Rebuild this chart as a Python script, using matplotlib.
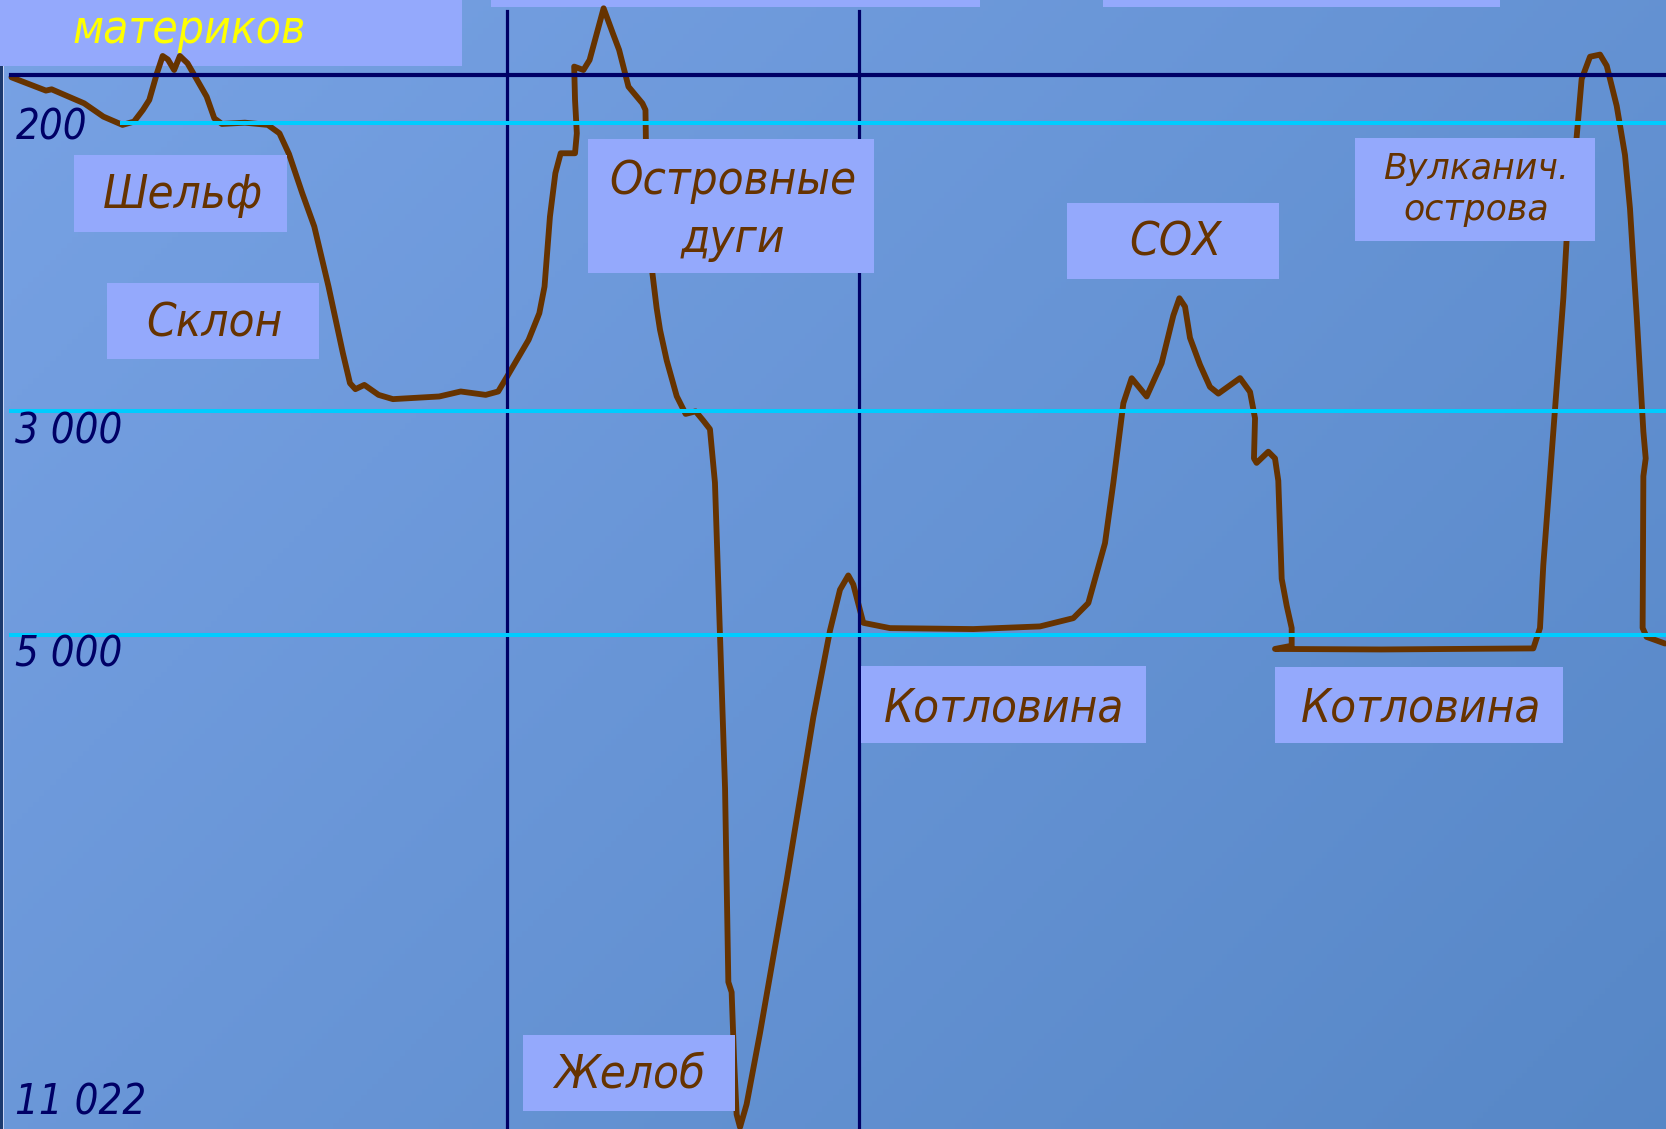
import matplotlib
matplotlib.use("Agg")
import matplotlib.pyplot as plt
import numpy as np
from matplotlib.patches import Rectangle

# picture units: 1568 x 1063 (figure is 1666 x 1129 px)
W, H = 1568, 1063

# ocean floor profile (distance, depth in picture units)
profile_x = [10.8, 43.2, 48.6, 79.2, 97.3, 115.3, 126.1, 134.5, 140.5, 147.7, 153.1, 158, 163.9, 169.3,
             176.5, 187.3, 194.5, 201.7, 208.9, 230.5, 252.1, 263, 272, 284.5, 295.8, 309.2, 322.7,
             329.4, 334.5, 342.9, 356.3, 369.8, 413.4, 433.6, 457.1, 468.9, 477.3, 497.5, 507.6,
             512.5, 517.6, 522.7, 527.7, 541.2, 542.9, 541.2, 540.4, 549.1, 554.9, 568.1, 576.8,
             582.7, 591.5, 604.6, 607.5, 608, 611, 614, 618, 621.2, 627.5, 636.9, 645.3, 654.7,
             661.9, 668.2, 672.9, 677.6, 682.4, 685.5, 688.6, 691, 693.3, 696.5, 702.7, 715.3,
             740.4, 765.5, 781.2, 790.6, 798.4, 803.1, 812.5, 837.6, 916, 978.8, 1010.2, 1024.3,
             1032.2, 1040, 1047.8, 1057.3, 1065.1, 1079.2, 1093.3, 1104.3, 1110, 1115.3, 1120,
             1129.4, 1138.8, 1146.7, 1167.1, 1176.5, 1181.2, 1180.2, 1182.7, 1193.7, 1200, 1203.1,
             1206.3, 1211, 1215.7, 1215.7, 1200, 1300, 1443.1, 1449.4, 1452.5, 1458.8, 1465.1,
             1471.4, 1476.1, 1483.9, 1488.6, 1496.5, 1505.9, 1512.2, 1521.6, 1529.4, 1534.1,
             1540.4, 1546.7, 1548.9, 1546.7, 1546, 1549.8, 1567]
profile_y = [72.8, 85.3, 84.1, 97.3, 109.8, 117.6, 114.5, 103.5, 94.1, 69, 52.7, 56, 65.9, 52.7,
             59.6, 78.4, 91, 111.4, 116.7, 115.5, 117.6, 125.5, 145, 182, 213.3, 269.8, 332.5,
             360.8, 366.4, 362.4, 371.8, 375.8, 373.3, 368.6, 371.8, 368.6, 354.5, 320, 294.9,
             269.8, 203.9, 163.1, 144.3, 144.3, 125.5, 94.1, 62.7, 65.9, 56.5, 7.8, 31.4,
             47, 81.6, 97.3, 103.5, 140, 200, 257, 290, 310.6, 339.4, 373, 389.7, 387.3,
             396, 404.1, 454.5, 598.4, 742.3, 924.6, 934.2, 1000, 1049.3, 1061.3, 1039.7, 972.6,
             828.7, 675.2, 593.6, 555.2, 541.8, 550.3, 586.4, 591.4, 592.3, 589.8, 582, 567.8,
             539.6, 511.4, 454.9, 379.6, 356.1, 373.3, 342, 297.1, 280.8, 288.7, 318.1,
             343.4, 364.3, 370.6, 356, 369, 393.8, 431.6, 435.8, 425.3, 431.6, 452.6,
             545, 570.3, 591.3, 608, 611, 611.5, 610.5, 591.3, 532.4, 448.4, 364.3,
             280.4, 196.3, 129, 74.5, 53.4, 51.4, 61.9, 99.7, 145.9, 196.3,
             297.1, 406.4, 431.6, 448.4, 591.3, 599.7, 605.9]

# depth levels (m)
level_labels = ["200", "3 000", "5 000", "11 022"]
level_y = [116, 387, 598, 1063]

# zone labels
zone_labels = ["Шельф", "Склон", "Островные\nдуги", "СОХ", "Вулканич.\nострова",
               "Котловина", "Котловина", "Желоб"]

BROWN = "#663300"
NAVY = "#000066"
CYAN = "#00ccff"
BOX = "#94a9fc"

fig = plt.figure(figsize=(16.66, 11.29), dpi=100)
ax = fig.add_axes([0, 0, 1, 1])
ax.set_xlim(0, W)
ax.set_ylim(H, 0)
ax.axis("off")

# background gradient
gx, gy = np.meshgrid(np.linspace(0, 1, 300), np.linspace(0, 1, 200))
t = np.clip(0.6 * gx + 0.4 * gy, 0, 1)[..., None]
c_tl = np.array([0.47, 0.635, 0.895])
c_br = np.array([0.34, 0.53, 0.78])
ax.imshow(c_tl * (1 - t) + c_br * t, extent=(0, W, H, 0), aspect="auto", zorder=0)
ax.axvspan(0, 2.8, color="#1c3a6e", zorder=0.5, lw=0)
ax.axvspan(2.8, 3.8, color="#c8d4f4", zorder=0.5, lw=0)

# title boxes at the top (cut off)
for x0, x1, y1 in [(0, 434.7, 61.8), (462, 922.4, 6.9), (1038, 1411.5, 6.9)]:
    ax.add_patch(Rectangle((x0, 0), x1 - x0, y1, color=BOX, lw=0, zorder=1))
ax.text(178, 40.5, "материков", color="#ffff00", fontsize=33, style="italic",
        family="DejaVu Sans", fontstretch="condensed", ha="center", va="baseline", zorder=5)

# profile
ax.plot(profile_x, profile_y, color=BROWN, lw=4.2, solid_joinstyle="round",
        solid_capstyle="round", zorder=2)

# frame lines
ax.plot([10, W], [71, 71], color=NAVY, lw=3, zorder=3)
for vx in [477, 808]:
    ax.plot([vx, vx], [10, H], color=NAVY, lw=2.3, zorder=3)
line_x0 = [115, 10, 10]
for y, x0 in zip(level_y[:3], line_x0):
    ax.plot([x0, W], [y, y], color=CYAN, lw=2.9, zorder=3)

# depth labels
label_base = [131.8, 417.3, 627.5, 1049.4]
for lab, yb in zip(level_labels, label_base):
    ax.text(14.5, yb, lab, color=NAVY, fontsize=30, style="italic", family="DejaVu Sans",
            fontstretch="condensed", ha="left", va="baseline", zorder=5)

# zone label boxes
boxes = [(70, 270, 146, 218), (100.8, 299.8, 266, 338.2), (553, 823, 131.1, 257.3),
         (1004.3, 1203.8, 191, 262.9), (1275.3, 1501.2, 130.4, 226.5),
         (810, 1079, 627.5, 700), (1200, 1470.7, 627.8, 700), (492.2, 691.5, 974.1, 1046.3)]
text_pos = [(172, [196]), (202, [316.9]), (690, [183, 237]), (1106, [241]),
            (1389.5, [169, 206.8]), (945, [679]), (1337, [679]), (593, [1024.3])]
for (x0, x1, y0, y1), lab, (tx, tys) in zip(boxes, zone_labels, text_pos):
    ax.add_patch(Rectangle((x0, y0), x1 - x0, y1 - y0, color=BOX, lw=0, zorder=4))
    small = lab.startswith("Вулк")
    for line, ty in zip(lab.split("\n"), tys):
        ax.text(tx, ty, line, color=BROWN, fontsize=25 if small else 34, style="italic",
                family="DejaVu Sans", fontstretch="normal" if small else "condensed",
                ha="center", va="baseline", zorder=5)

fig.savefig("out.png", dpi=100)
